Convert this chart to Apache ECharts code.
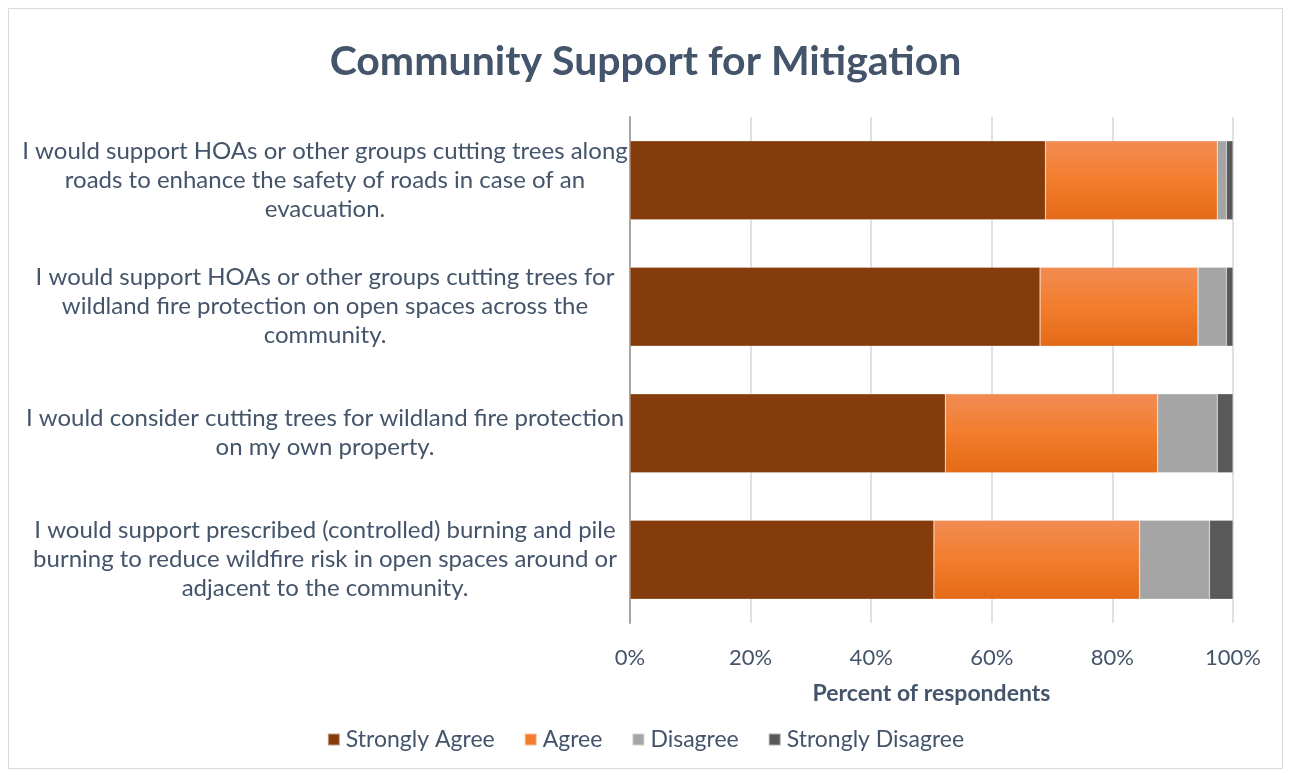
<!DOCTYPE html>
<html><head><meta charset="utf-8">
<script src="https://cdn.jsdelivr.net/npm/echarts@6/dist/echarts.min.js"></script>
<style>html,body{margin:0;padding:0;background:#fff}#c{width:1291px;height:775px}</style>
</head><body><div id="c"></div>
<script>
const categories = [
  "I would support HOAs or other groups cutting trees along\nroads to enhance the safety of roads in case of an\nevacuation.",
  "I would support HOAs or other groups cutting trees for\nwildland fire protection on open spaces across the\ncommunity.",
  "I would consider cutting trees for wildland fire protection\non my own property.",
  "I would support prescribed (controlled) burning and pile\nburning to reduce wildfire risk in open spaces around or\nadjacent to the community."
];
const seriesNames = ["Strongly Agree", "Agree", "Disagree", "Strongly Disagree"];
const stronglyAgree = [68.9, 68.0, 52.3, 50.4];
const agree = [28.5, 26.2, 35.2, 34.1];
const disagree = [1.5, 4.7, 9.9, 11.6];
const stronglyDisagree = [1.1, 1.1, 2.6, 3.9];
const xTicks = [0, 20, 40, 60, 80, 100];

const FONT = "Lato";
const TXT = "#44546a";
const chart = echarts.init(document.getElementById('c'));
const colors = [
  "#843c0c",
  new echarts.graphic.LinearGradient(0,0,0,1,[{offset:0,color:"#f28c54"},{offset:0.5,color:"#f27d2c"},{offset:1,color:"#e36a18"}]),
  "#a5a5a5",
  "#595959"
];
const values = [stronglyAgree, agree, disagree, stronglyDisagree];
chart.setOption({
  animation:false,
  textStyle:{fontFamily:FONT},
  title:{text:"Community Support for Mitigation",left:'center',top:36,
    textStyle:{fontFamily:FONT,fontSize:41,fontWeight:'bold',color:TXT}},
  graphic:[{type:'rect',shape:{x:8.5,y:8.5,width:1274,height:760},style:{fill:'none',stroke:'#d9d9d9',lineWidth:1},silent:true}],
  legend:{bottom:19,left:'center',itemWidth:12,itemHeight:12,itemGap:29,
    icon:'rect',
    textStyle:{fontFamily:FONT,fontSize:23,color:TXT,padding:[0,0,0,1]},
    data:seriesNames.map((n,i)=>({name:n,itemStyle:{color: i===1?'#f27d2c':colors[i]}}))},
  grid:{left:630,right:58,top:117,bottom:152,containLabel:false},
  xAxis:{type:'value',min:xTicks[0],max:xTicks[xTicks.length-1],interval:20,
    name:"Percent of respondents",nameLocation:'middle',nameGap:59,
    nameTextStyle:{fontFamily:FONT,fontSize:23,fontWeight:'bold',color:TXT},
    axisLabel:{formatter:v=>v+'%',fontSize:22,color:TXT,margin:24,fontFamily:FONT},
    axisLine:{show:false},axisTick:{show:false},
    splitLine:{lineStyle:{color:'#dde2ea',width:2}}},
  yAxis:{type:'category',data:categories,inverse:true,
    axisLine:{show:true,lineStyle:{color:'#a6a6a6',width:2}},axisTick:{show:false},
    axisLabel:{align:'center',margin:305,fontSize:24,lineHeight:29,color:TXT,fontFamily:FONT}},
  series:values.map((d,i)=>({name:seriesNames[i],type:'bar',stack:'all',barCategoryGap:'37.6%',
    data:d,itemStyle:{color:colors[i],borderColor:'rgba(255,255,255,0.5)',borderWidth:0.5}}))
});
</script></body></html>
